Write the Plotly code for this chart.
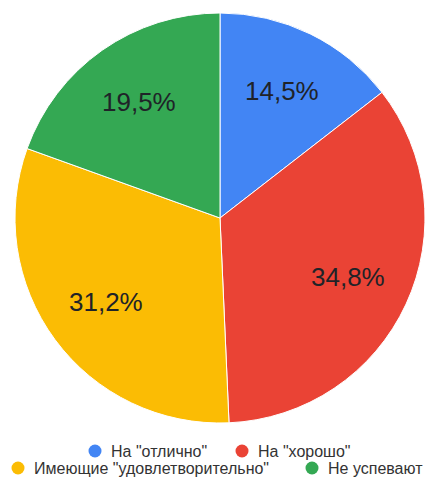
import math
import plotly.graph_objects as go

labels = ['На "отлично"', 'На "хорошо"', 'Имеющие "удовлетворительно"', 'Не успевают']
values = [14.5, 34.8, 31.2, 19.5]
colors = ['#4285F4', '#EA4335', '#FBBC04', '#34A853']

W, H = 434, 480
ML, MR, MT, MB = 15, 9, 13, 57
PW, PH = W - ML - MR, H - MT - MB

def px(x):
    return (x - ML) / PW

def py(y):
    return (H - MB - y) / PH

FONT = 'Arial, Liberation Sans, sans-serif'

fig = go.Figure(go.Pie(
    labels=labels,
    values=values,
    sort=False,
    direction='clockwise',
    rotation=0,
    marker=dict(colors=colors, line=dict(color='white', width=1)),
    textinfo='none',
    hoverinfo='label+percent',
    showlegend=False,
))

# percentage labels placed at each slice's mid-angle (as in the source chart)
total = sum(values)
cx0, cy0 = 0.5, 0.5          # pie centre in paper coords
lab_r = 0.5 * 0.69           # label distance as a fraction of the pie diameter
acc = 0.0
for v in values:
    mid = (acc + v / 2) / total * 2 * math.pi
    acc += v
    txt = f'{v / total * 100:.1f}%'.replace('.', ',')
    fig.add_annotation(xref='paper', yref='paper',
                       x=cx0 + lab_r * math.sin(mid), y=cy0 + lab_r * math.cos(mid),
                       xanchor='center', yanchor='middle', showarrow=False,
                       text=txt, font=dict(family=FONT, size=26, color='#1f2328'))

# custom legend: (circle x, text x, row y) in pixels
legend_pos = [(95, 109, 451), (242, 256, 451), (18, 32, 468), (312, 326, 468)]
r = 6.5
for (cx, tx, ry), lab, col in zip(legend_pos, labels, colors):
    fig.add_shape(type='circle', xref='paper', yref='paper',
                  x0=px(cx - r), x1=px(cx + r), y0=py(ry + r), y1=py(ry - r),
                  fillcolor=col, line=dict(width=0))
    fig.add_annotation(xref='paper', yref='paper', x=px(tx), y=py(ry),
                       xanchor='left', yanchor='middle', showarrow=False,
                       text=lab, font=dict(family=FONT, size=16, color='#333333'))

fig.update_layout(
    width=W, height=H,
    margin=dict(l=ML, r=MR, t=MT, b=MB),
    paper_bgcolor='white',
    showlegend=False,
)

fig.write_html('out.html', config={'displayModeBar': False},
               post_script="document.body.style.margin='0';document.body.style.overflow='hidden';")
